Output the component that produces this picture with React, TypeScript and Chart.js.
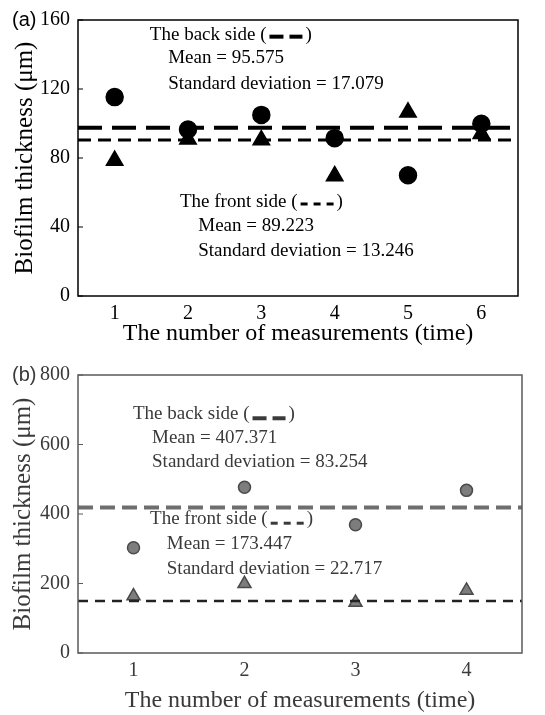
import React, { useEffect, useRef } from "react";
import { Chart, registerables } from "chart.js";
Chart.register(...registerables);

// ---------- Panel (a) data ----------
const measurementsA = [1, 2, 3, 4, 5, 6];
const backSideA = [115.3, 96.5, 105, 91.5, 70, 99.9];
const frontSideA = [78.5, 90.8, 90.4, 69.6, 106.5, 94];
const backMeanLineA = 97.5;
const frontMeanLineA = 90.5;
const yTicksA = [0, 40, 80, 120, 160];

// ---------- Panel (b) data ----------
const measurementsB = [1, 2, 3, 4];
const backSideB = [303, 477, 369, 468];
const frontSideB = [164, 199, 145, 180];
const backMeanLineB = 419;
const frontMeanLineB = 150;
const yTicksB = [0, 200, 400, 600, 800];

// annotation texts (placed in data coordinates)
const notesA = [
  { text: "The back side (", x: 1.48, y: 151.5, glyph: "long" },
  { text: "Mean = 95.575", x: 1.73, y: 137.9 },
  { text: "Standard deviation = 17.079", x: 1.73, y: 123.1 },
  { text: "The front side (", x: 1.89, y: 54.5, glyph: "short" },
  { text: "Mean = 89.223", x: 2.14, y: 40.3 },
  { text: "Standard deviation = 13.246", x: 2.14, y: 26.1 },
];
const notesB = [
  { text: "The back side (", x: 0.995, y: 687, glyph: "long" },
  { text: "Mean = 407.371", x: 1.167, y: 620 },
  { text: "Standard deviation = 83.254", x: 1.167, y: 549 },
  { text: "The front side (", x: 1.149, y: 385, glyph: "short" },
  { text: "Mean = 173.447", x: 1.3, y: 314 },
  { text: "Standard deviation = 22.717", x: 1.3, y: 243 },
];

const SERIF = "'Liberation Serif', 'DejaVu Serif', serif";

type PanelCfg = {
  label: string;
  cats: number[];
  back: number[];
  front: number[];
  backMean: number;
  frontMean: number;
  yTicks: number[];
  notes: { text: string; x: number; y: number; glyph?: string }[];
  height: number;
  axisH: number;
  padTop: number;
  padRight: number;
  yTitlePad: number;
  xTitlePad: number;
  ink: string;
  frame: string;
  markerFill: string;
  markerBorder: string;
  circleR: number;
  triR: number;
  backLine: { color: string; width: number; dash: number[] };
  frontLine: { color: string; width: number; dash: number[] };
  glyphDy: number;
};

function buildChart(canvas: HTMLCanvasElement, c: PanelCfg) {
  const xmin = c.cats[0] - 0.5;
  const xmax = c.cats[c.cats.length - 1] + 0.5;
  const ymin = c.yTicks[0];
  const ymax = c.yTicks[c.yTicks.length - 1];

  const overlay = {
    id: "overlay",
    afterDraw(chart: any) {
      const { ctx, chartArea } = chart;
      const xs = chart.scales.x;
      const ys = chart.scales.y;
      ctx.save();
      // frame
      ctx.strokeStyle = c.frame;
      ctx.lineWidth = 1.5;
      ctx.setLineDash([]);
      ctx.strokeRect(chartArea.left, chartArea.top, chartArea.right - chartArea.left, chartArea.bottom - chartArea.top);
      // inward ticks on the left axis
      ctx.lineWidth = 1;
      c.yTicks.forEach((v) => {
        const py = ys.getPixelForValue(v);
        ctx.beginPath();
        ctx.moveTo(chartArea.left, py);
        ctx.lineTo(chartArea.left + 5, py);
        ctx.stroke();
      });
      // panel label
      ctx.fillStyle = c.ink;
      ctx.font = "20px 'Liberation Sans', Arial, sans-serif";
      ctx.textAlign = "left";
      ctx.textBaseline = "middle";
      ctx.fillText(c.label, 12, ys.getPixelForValue(ymax));
      // notes
      ctx.font = `19px ${SERIF}`;
      c.notes.forEach((n) => {
        const px = xs.getPixelForValue(n.x);
        const py = ys.getPixelForValue(n.y);
        ctx.fillStyle = c.ink;
        ctx.fillText(n.text, px, py);
        if (n.glyph) {
          let gx = px + ctx.measureText(n.text).width + 3;
          const segs = n.glyph === "long" ? [14, 13] : [7, 7, 7];
          const gap = n.glyph === "long" ? 6 : 6;
          ctx.strokeStyle = c.ink;
          ctx.lineWidth = n.glyph === "long" ? 4 : 3;
          segs.forEach((len) => {
            ctx.beginPath();
            ctx.moveTo(gx, py + c.glyphDy);
            ctx.lineTo(gx + len, py + c.glyphDy);
            ctx.stroke();
            gx += len + gap;
          });
          ctx.fillText(")", gx - gap + 3, py);
        }
      });
      ctx.restore();
    },
  };

  const tickFont = { family: SERIF, size: 20 };

  return new Chart(canvas, {
    type: "scatter",
    data: {
      datasets: [
        {
          type: "line",
          label: "back mean",
          data: [
            { x: xmin, y: c.backMean },
            { x: xmax, y: c.backMean },
          ],
          borderColor: c.backLine.color,
          borderWidth: c.backLine.width,
          borderDash: c.backLine.dash,
          pointRadius: 0,
          fill: false,
        } as any,
        {
          type: "line",
          label: "front mean",
          data: [
            { x: xmin, y: c.frontMean },
            { x: xmax, y: c.frontMean },
          ],
          borderColor: c.frontLine.color,
          borderWidth: c.frontLine.width,
          borderDash: c.frontLine.dash,
          pointRadius: 0,
          fill: false,
        } as any,
        {
          label: "The back side",
          data: c.cats.map((x, i) => ({ x, y: c.back[i] })),
          pointStyle: "circle",
          pointRadius: c.circleR,
          backgroundColor: c.markerFill,
          borderColor: c.markerBorder,
          borderWidth: 1.5,
        },
        {
          label: "The front side",
          data: c.cats.map((x, i) => ({ x, y: c.front[i] })),
          pointStyle: "triangle",
          pointRadius: c.triR,
          backgroundColor: c.markerFill,
          borderColor: c.markerBorder,
          borderWidth: 1.5,
        },
      ],
    },
    options: {
      animation: false,
      responsive: false,
      maintainAspectRatio: false,
      layout: { padding: { left: 0, right: c.padRight, top: c.padTop, bottom: 0 } },
      plugins: { legend: { display: false }, tooltip: { enabled: false } },
      scales: {
        x: {
          type: "linear",
          min: xmin,
          max: xmax,
          afterBuildTicks: (s: any) => {
            s.ticks = c.cats.map((v) => ({ value: v }));
          },
          afterFit: (s: any) => {
            s.height = c.axisH;
          },
          grid: { display: false, drawTicks: false },
          border: { display: false },
          ticks: { padding: 6, font: tickFont, color: c.ink },
          title: {
            display: true,
            text: "The number of measurements (time)",
            font: { family: SERIF, size: 24 },
            color: c.ink,
            padding: { top: 0, bottom: c.xTitlePad },
          },
        },
        y: {
          min: ymin,
          max: ymax,
          afterBuildTicks: (s: any) => {
            s.ticks = c.yTicks.map((v) => ({ value: v }));
          },
          afterFit: (s: any) => {
            s.width = 78;
          },
          grid: { display: false, drawTicks: false },
          border: { display: false },
          ticks: { padding: 8, font: tickFont, color: c.ink },
          title: {
            display: true,
            text: "Biofilm thickness (μm)",
            font: { family: SERIF, size: 25 },
            color: c.ink,
            padding: { top: c.yTitlePad, bottom: 0 },
          },
        },
      },
    },
    plugins: [overlay],
  } as any);
}

const panelA: PanelCfg = {
  label: "(a)",
  cats: measurementsA,
  back: backSideA,
  front: frontSideA,
  backMean: backMeanLineA,
  frontMean: frontMeanLineA,
  yTicks: yTicksA,
  notes: notesA,
  height: 355,
  axisH: 59,
  padTop: 14,
  padRight: 27,
  yTitlePad: 10,
  xTitlePad: 7,
  ink: "#000000",
  frame: "#000000",
  markerFill: "#000000",
  markerBorder: "#000000",
  circleR: 8.5,
  triR: 9.5,
  backLine: { color: "#000000", width: 4, dash: [24, 10] },
  frontLine: { color: "#000000", width: 3, dash: [13, 7] },
  glyphDy: 2,
};

const panelB: PanelCfg = {
  label: "(b)",
  cats: measurementsB,
  back: backSideB,
  front: frontSideB,
  backMean: backMeanLineB,
  frontMean: frontMeanLineB,
  yTicks: yTicksB,
  notes: notesB,
  height: 360,
  axisH: 62,
  padTop: 15,
  padRight: 23,
  yTitlePad: 8,
  xTitlePad: 0,
  ink: "#3a3a3a",
  frame: "#5a5a5a",
  markerFill: "#7d7d7d",
  markerBorder: "#4a4a4a",
  circleR: 6,
  triR: 7.5,
  backLine: { color: "#6e6e6e", width: 4, dash: [15, 7] },
  frontLine: { color: "#222222", width: 2.5, dash: [10, 7] },
  glyphDy: 4,
};

function Panel({ cfg }: { cfg: PanelCfg }) {
  const ref = useRef<HTMLCanvasElement | null>(null);
  useEffect(() => {
    if (!ref.current) return;
    const chart = buildChart(ref.current, cfg);
    return () => chart.destroy();
  }, [cfg]);
  return (
    <canvas
      ref={ref}
      width={545}
      height={cfg.height}
      style={{ display: "block", width: 545, height: cfg.height }}
    />
  );
}

export default function App() {
  return (
    <div style={{ position: "absolute", left: 0, top: 0, width: 545, height: 715, background: "#fff" }}>
      <Panel cfg={panelA} />
      <Panel cfg={panelB} />
    </div>
  );
}
